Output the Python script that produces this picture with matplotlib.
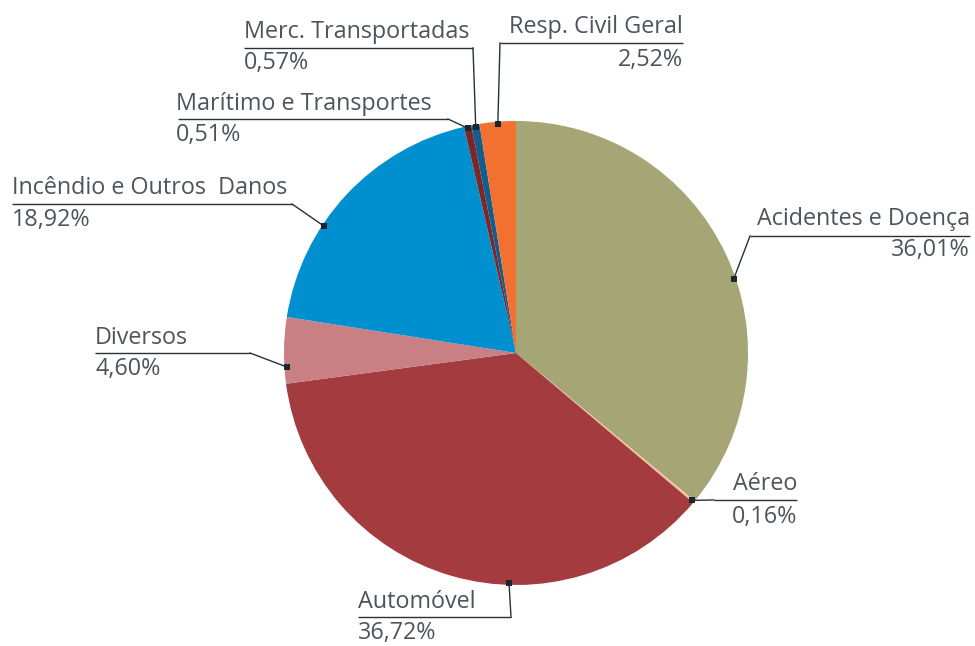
import numpy as np
import matplotlib
matplotlib.use("Agg")
import matplotlib.pyplot as plt

# data
categories = [
    "Acidentes e Doença", "Aéreo", "Automóvel", "Diversos",
    "Incêndio e Outros  Danos", "Marítimo e Transportes",
    "Merc. Transportadas", "Resp. Civil Geral",
]
shares = [36.01, 0.16, 36.72, 4.60, 18.92, 0.51, 0.57, 2.52]
share_labels = ["36,01%", "0,16%", "36,72%", "4,60%", "18,92%", "0,51%", "0,57%", "2,52%"]
colors = ["#A6A576", "#F4C39C", "#A33B3F", "#C88084", "#0090CF", "#7B2727", "#155B8B", "#F27131"]

W, H = 975, 646
CX, CY, R = 516, 353, 232
TXT = "#4D555C"
LINE = "#26313A"

# label layout in pixel coords (y from top):
# (name_x, name_y, pct_y, align, underline x0, x1, underline y, elbow x, anchor fraction in wedge)
layout = {
    "Acidentes e Doença":       (970, 219, 250, "right", 750, 970, 236, 750, 0.55),
    "Aéreo":                    (797, 484, 517, "right", 714, 797, 500, 714, 0.5),
    "Automóvel":                (358, 602, 633, "left", 358, 511, 617, 511, 0.39),
    "Diversos":                 (95, 338, 369, "left", 95, 250, 353, 250, 0.25),
    "Incêndio e Outros  Danos": (12, 188, 220, "left", 12, 292, 204, 292, 0.36),
    "Marítimo e Transportes":   (176, 104, 135, "left", 178, 448, 119, 448, 0.5),
    "Merc. Transportadas":      (244, 32, 63, "left", 244, 473, 48, 473, 0.5),
    "Resp. Civil Geral":        (683, 27, 60, "right", 500, 683, 43, 500, 0.5),
}


def Y(py):
    return H - py


plt.rcParams["font.family"] = ["Open Sans", "DejaVu Sans"]
fig = plt.figure(figsize=(W / 100, H / 100), dpi=100)
ax = fig.add_axes([0, 0, 1, 1])

wedges, _ = ax.pie(
    shares, colors=colors, startangle=90, counterclock=False,
    center=(CX, Y(CY)), radius=R, wedgeprops=dict(linewidth=0),
)
ax.set_xlim(0, W)
ax.set_ylim(0, H)
ax.set_aspect("equal")
ax.axis("off")

for name, pct, w in zip(categories, share_labels, wedges):
    nx, ny, py, ha, u0, u1, uy, ex, frac = layout[name]
    # clockwise pie: wedge starts at theta2 and runs down to theta1
    th = np.deg2rad(w.theta2 - frac * (w.theta2 - w.theta1))
    axp = CX + 0.99 * R * np.cos(th)
    ayp = Y(CY) + 0.99 * R * np.sin(th)
    ax.plot([u0, u1], [Y(uy), Y(uy)], color=LINE, lw=1.0, solid_capstyle="butt")
    ax.plot([ex, axp], [Y(uy), ayp], color=LINE, lw=1.0)
    ax.plot([axp], [ayp], marker="s", ms=4.5, color="#1B2630", mew=0)
    ax.text(nx, Y(ny), name, ha=ha, va="center", fontsize=16.8, color=TXT)
    ax.text(nx, Y(py), pct, ha=ha, va="center", fontsize=16.8, color=TXT)

fig.savefig("out.png", dpi=100)
